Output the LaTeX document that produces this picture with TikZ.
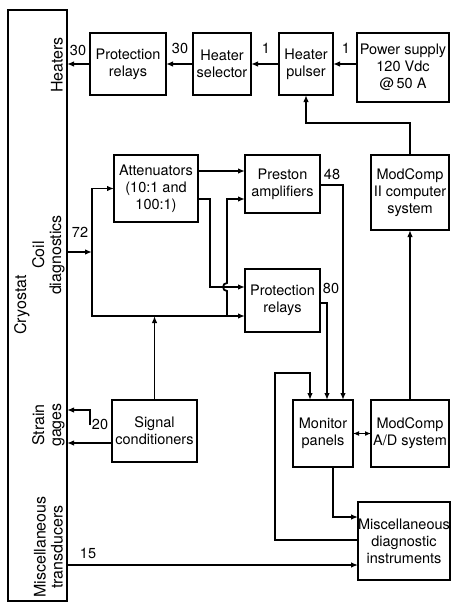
\documentclass[tikz,border=0pt]{standalone}
\usepackage{fontspec}
\setmainfont{TeX Gyre Heros}
\usetikzlibrary{positioning, calc, arrows.meta}

\begin{document}
\begin{tikzpicture}[x=1pt, y=-1pt,
    blk/.style={draw, line width=2.2pt, align=center, inner sep=0pt, outer sep=0pt,
                font=\fontsize{14.5}{17}\selectfont},
    wire/.style={line width=1.8pt},
    conn/.style={wire, -{Latex[length=7pt, width=5.5pt]}},
    twoway/.style={wire, {Latex[length=6pt, width=5pt]}-{Latex[length=6pt, width=5pt]}},
    side/.style={rotate=90, align=center, font=\fontsize{16}{17}\selectfont},
    cnt/.style={font=\fontsize{14.5}{16}\selectfont},
  ]
  \useasboundingbox (0,0) rectangle (451,605);

  % --- cryostat column ---
  \node[draw, line width=2.2pt, minimum width=59pt, minimum height=591pt,
        inner sep=0pt, outer sep=0pt] (cryo) at (37.5,305.5) {};
  \node[side] (lbheat)  at (57,65)    {Heaters};
  \node[side] (lbcryo)  at (22,305)   {Cryostat};
  \node[side] (lbcoil)  at (48.5,255) {Coil\\diagnostics};
  \node[side] (lbstr)   at (48.5,425) {Strain\\gages};
  \node[side] (lbmisc)  at (48.5,547) {Miscellaneous\\transducers};

  % --- heater chain ---
  \node[blk, minimum width=76pt, minimum height=62pt] (relA) at (128,64)    {Protection\\relays};
  \node[blk, minimum width=58pt, minimum height=62pt] (hsel) at (222,64)    {Heater\\selector};
  \node[blk, minimum width=54pt, minimum height=62pt] (hpul) at (306,64)    {Heater\\pulser};
  \node[blk, minimum width=92pt, minimum height=69pt] (psup) at (403,67.5)  {Power supply\\120 Vdc\\@\,50 A};

  % --- coil diagnostics ---
  \node[blk, minimum width=84pt, minimum height=67pt] (atten) at (156,188.5) {Attenuators\\(10:1 and\\100:1)};
  \node[blk, minimum width=75pt, minimum height=58pt] (prest) at (282.5,184) {Preston\\amplifiers};
  \node[blk, minimum width=78pt, minimum height=75pt] (mcII)  at (410,192.5) {ModComp\\II computer\\system};
  \node[blk, minimum width=75pt, minimum height=63pt] (relB)  at (282.5,300.5) {Protection\\relays};

  % --- lower blocks ---
  \node[blk, minimum width=85pt, minimum height=62pt] (sigc) at (154.5,431) {Signal\\conditioners};
  \node[blk, minimum width=60pt, minimum height=67pt] (monp) at (323,433.5) {Monitor\\panels};
  \node[blk, minimum width=78pt, minimum height=67pt] (mcAD) at (410,433.5) {ModComp\\A/D system};
  \node[blk, minimum width=90pt, minimum height=78pt] (misc) at (404,541)   {Miscellaneous\\diagnostic\\instruments};

  % --- channel counts ---
  \node[cnt] (n30a) at (78,50)   {30};
  \node[cnt] (n30b) at (180,48)  {30};
  \node[cnt] (n1a)  at (266,48)  {1};
  \node[cnt] (n1b)  at (346,48)  {1};
  \node[cnt] (n72)  at (80,232)  {72};
  \node[cnt] (n48)  at (332,174) {48};
  \node[cnt] (n80)  at (331,288) {80};
  \node[cnt] (n20)  at (100,424) {20};
  \node[cnt] (n15)  at (88,553)  {15};

  % --- heater connectors ---
  \draw[conn] (relA.west) -- (relA.west -| cryo.east);
  \draw[conn] (hsel.west) -- (relA.east);
  \draw[conn] (hpul.west) -- (hsel.east);
  \draw[conn] (psup.west |- hpul.east) -- (hpul.east);
  \coordinate (hbend) at (306,123);
  \draw[conn] (mcII.north) |- (hbend) -- (hpul.south);

  % --- coil connectors ---
  \coordinate (cj) at (92,252);
  \coordinate (cb) at (92,316);
  \draw[conn] (cj -| cryo.east) -- (cj);
  \draw[conn] (cj) |- (atten.west);
  \draw[conn] (cj) -- (cb) -- (cb -| relB.west);
  \coordinate (ao1) at (198,171);
  \draw[conn] (ao1) -- (ao1 -| prest.west);
  \coordinate (ao2) at (198,199);
  \coordinate (ad) at (210,287);
  \draw[conn] (ao2) -| (ad) -- (ad -| relB.west);
  \coordinate (bp) at (227,316);
  \coordinate (bt) at (227,199);
  \draw[conn] (bp) -- (227,291) arc[start angle=90, end angle=270, radius=4]
              -- (bt) -- (bt -| prest.west);

  % --- strain gage connectors ---
  \draw[conn] (sigc.north) -- (sigc.north |- cb);
  \coordinate (so) at (112,443);
  \draw[conn] (so) -- (so -| cryo.east);
  \coordinate (sb) at (90,425);
  \coordinate (sbt) at (90,410);
  \draw[conn] (sb) -- (sbt) -- (sbt -| cryo.east);

  % --- monitor connectors ---
  \coordinate (p48) at (343,185);
  \draw[conn] (prest.east |- p48) -- (p48) -- (p48 |- monp.north);
  \coordinate (p80) at (327,303);
  \draw[conn] (relB.east |- p80) -- (p80) -- (p80 |- monp.north);
  \coordinate (lp1) at (275,540);
  \coordinate (lp2) at (310,373);
  \draw[conn] (misc.west |- lp1) -- (lp1) |- (lp2) -- (lp2 |- monp.north);
  \coordinate (mb) at (333,517);
  \draw[conn] (monp.south -| mb) -- (mb) -- (mb -| misc.west);
  \draw[twoway] (monp.east) -- (mcAD.west);
  \draw[conn] (mcAD.north) -- (mcII.south);
  \coordinate (tr) at (0,565);
  \draw[conn] (cryo.east |- tr) -- (misc.west |- tr);

\end{tikzpicture}
\end{document}
